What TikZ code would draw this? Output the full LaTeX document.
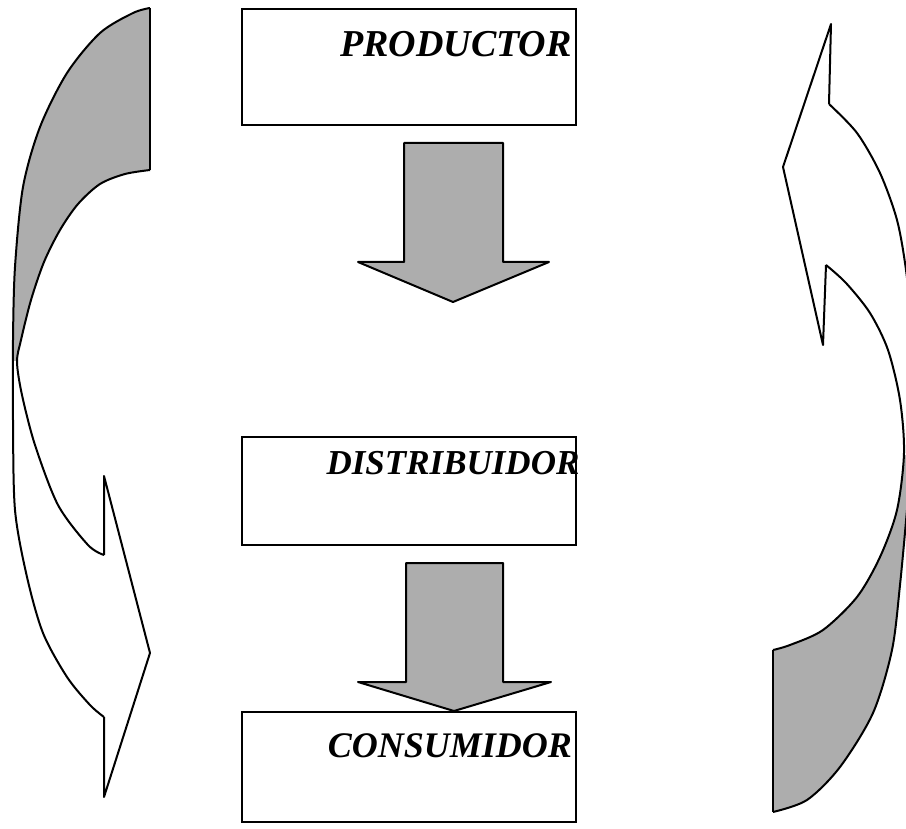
\documentclass[tikz,border=0pt]{standalone}
\usepackage{fontspec}
\setmainfont{Liberation Serif}
\begin{document}
\begin{tikzpicture}[x=1pt,y=-1pt,
  shadefill/.style={fill=black!32},
  outl/.style={draw=black,line width=2pt,line join=round},
  box/.style={draw=black,line width=2pt,rectangle,minimum width=334pt,inner sep=0pt},
  lbl/.style={font=\fontsize{38}{42}\selectfont\bfseries\itshape,inner sep=0pt,anchor=base}]
\useasboundingbox (0,0) rectangle (906,829);

% boxes
\node[box,minimum height=116pt] (prod) at (409,67) {};
\node[box,minimum height=108pt] (dist) at (409,491) {};
\node[box,minimum height=110pt] (cons) at (409,767) {};
\node[lbl] (prodt) at (456,57) {PRODUCTOR};
\node[lbl,font=\fontsize{35}{40}\selectfont\bfseries\itshape] (distt) at (453,474) {DISTRIBUIDOR};
\node[lbl,font=\fontsize{36}{40}\selectfont\bfseries\itshape] (const) at (450,757) {CONSUMIDOR};

% block arrows
\path[shadefill,outl] (404,143) -- (503,143) -- (503,262) -- (549,262) -- (453,302) -- (358,262) -- (404,262) -- cycle;
\path[shadefill,outl] (406,563) -- (503,563) -- (503,682) -- (551,682) -- (454,711) -- (358,682) -- (406,682) -- cycle;

% left curved arrow
\begin{scope}
\clip (0,0) rectangle (200,361);
\fill[shadefill] plot[smooth] coordinates {(150,8) (133,13) (100,33) (67,73) (40,127) (23,187) (15,267) (13,340) (13,420) (15,510) (27,577) (43,633) (67,677) (90,705) (104,717)}
 -- plot[smooth] coordinates {(104,555) (88,545) (58,505) (35,445) (22,395) (17,362) (21,340) (31,300) (44,262) (60,230) (78,204) (100,184) (125,174) (150,170)} -- cycle;
\end{scope}
\draw[outl] plot[smooth] coordinates {(150,8) (133,13) (100,33) (67,73) (40,127) (23,187) (15,267) (13,340) (13,420) (15,510) (27,577) (43,633) (67,677) (90,705) (104,717)};
\draw[outl] plot[smooth] coordinates {(104,555) (88,545) (58,505) (35,445) (22,395) (17,362) (21,340) (31,300) (44,262) (60,230) (78,204) (100,184) (125,174) (150,170)};
\draw[outl] (150,170) -- (150,8);
\draw[outl] (104,717) -- (104,797) -- (150,653) -- (104,476) -- (104,555);

% right curved arrow
\begin{scope}
\clip (700,455) rectangle (930,829);
\fill[shadefill] plot[smooth] coordinates {(829,104) (857,133) (880,173) (897,220) (906,270) (912,330) (914,390) (912,450) (907,510) (900,585) (892,650) (873,713) (840,767) (807,800) (773,812)}
 -- plot[smooth] coordinates {(773,650) (790,645) (823,630) (857,597) (880,557) (897,510) (904,453) (900,400) (888,350) (870,313) (846,283) (826,265)} -- cycle;
\end{scope}
\draw[outl] plot[smooth] coordinates {(829,104) (857,133) (880,173) (897,220) (906,270) (912,330) (914,390) (912,450) (907,510) (900,585) (892,650) (873,713) (840,767) (807,800) (773,812)};
\draw[outl] plot[smooth] coordinates {(773,650) (790,645) (823,630) (857,597) (880,557) (897,510) (904,453) (900,400) (888,350) (870,313) (846,283) (826,265)};
\draw[outl] (773,650) -- (773,812);
\draw[outl] (829,104) -- (831,24) -- (783,167) -- (823,345) -- (826,265);
\end{tikzpicture}
\end{document}
